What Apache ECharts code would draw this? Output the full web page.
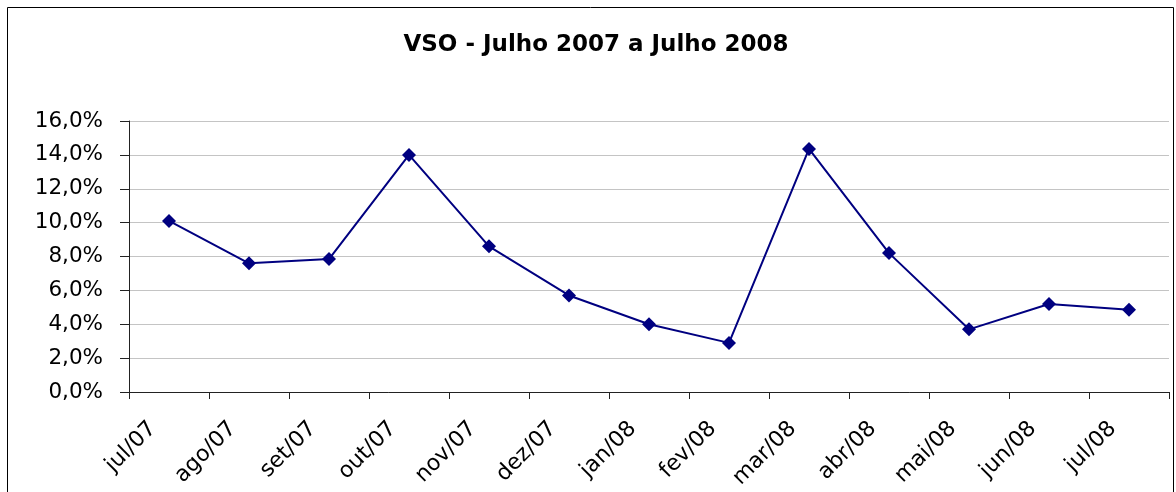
<!DOCTYPE html>
<html>
<head>
<meta charset="utf-8">
<script src="https://cdn.jsdelivr.net/npm/echarts@6/dist/echarts.min.js"></script>
<style>
html,body{margin:0;padding:0;background:#fff;}
#chart{width:1176px;height:492px;}
</style>
</head>
<body>
<div id="chart"></div>
<script>
const titleText = 'VSO - Julho 2007 a Julho 2008';
const categories = ['jul/07','ago/07','set/07','out/07','nov/07','dez/07','jan/08','fev/08','mar/08','abr/08','mai/08','jun/08','jul/08'];
const vsoValues = [10.1, 7.6, 7.85, 14.0, 8.6, 5.7, 4.0, 2.9, 14.35, 8.2, 3.7, 5.2, 4.85];
const yTicks = [0, 2, 4, 6, 8, 10, 12, 14, 16];

const chart = echarts.init(document.getElementById('chart'), null, {renderer: 'canvas'});
const font = '"DejaVu Sans", "Liberation Sans", Arial, sans-serif';
chart.setOption({
  animation: false,
  backgroundColor: '#ffffff',
  graphic: [
    {type: 'rect', shape: {x: 7.5, y: 7.5, width: 1166, height: 500}, style: {fill: 'none', stroke: '#000', lineWidth: 1}, silent: true, z: 0},
    {type: 'text', x: 596, y: 45, style: {text: titleText, font: 'bold 23px ' + font, fill: '#000', align: 'center', verticalAlign: 'middle'}, z: 10}
  ],
  grid: {left: 129, right: 7, top: 121, bottom: 100, containLabel: false},
  xAxis: {
    type: 'category',
    data: categories,
    boundaryGap: true,
    axisLine: {lineStyle: {color: '#222', width: 1}},
    axisTick: {show: true, length: 7, lineStyle: {color: '#222'}},
    axisLabel: {rotate: 45, fontSize: 22, fontFamily: font, color: '#000', margin: 17, padding: [0, 23, 0, 0]},
    splitLine: {show: false}
  },
  yAxis: {
    type: 'value',
    min: yTicks[0],
    max: yTicks[yTicks.length - 1],
    interval: 2,
    axisLine: {show: true, lineStyle: {color: '#222', width: 1}},
    axisTick: {show: true, length: 9, lineStyle: {color: '#222'}},
    axisLabel: {fontSize: 21.5, fontFamily: font, color: '#000', margin: 26,
      formatter: v => v.toFixed(1).replace('.', ',') + '%'},
    splitLine: {show: true, lineStyle: {color: '#c4c4c4', width: 1}}
  },
  series: [{
    type: 'line',
    data: vsoValues,
    symbol: 'diamond',
    symbolSize: 14,
    lineStyle: {color: '#000080', width: 2},
    itemStyle: {color: '#000080'}
  }]
});
</script>
</body>
</html>
